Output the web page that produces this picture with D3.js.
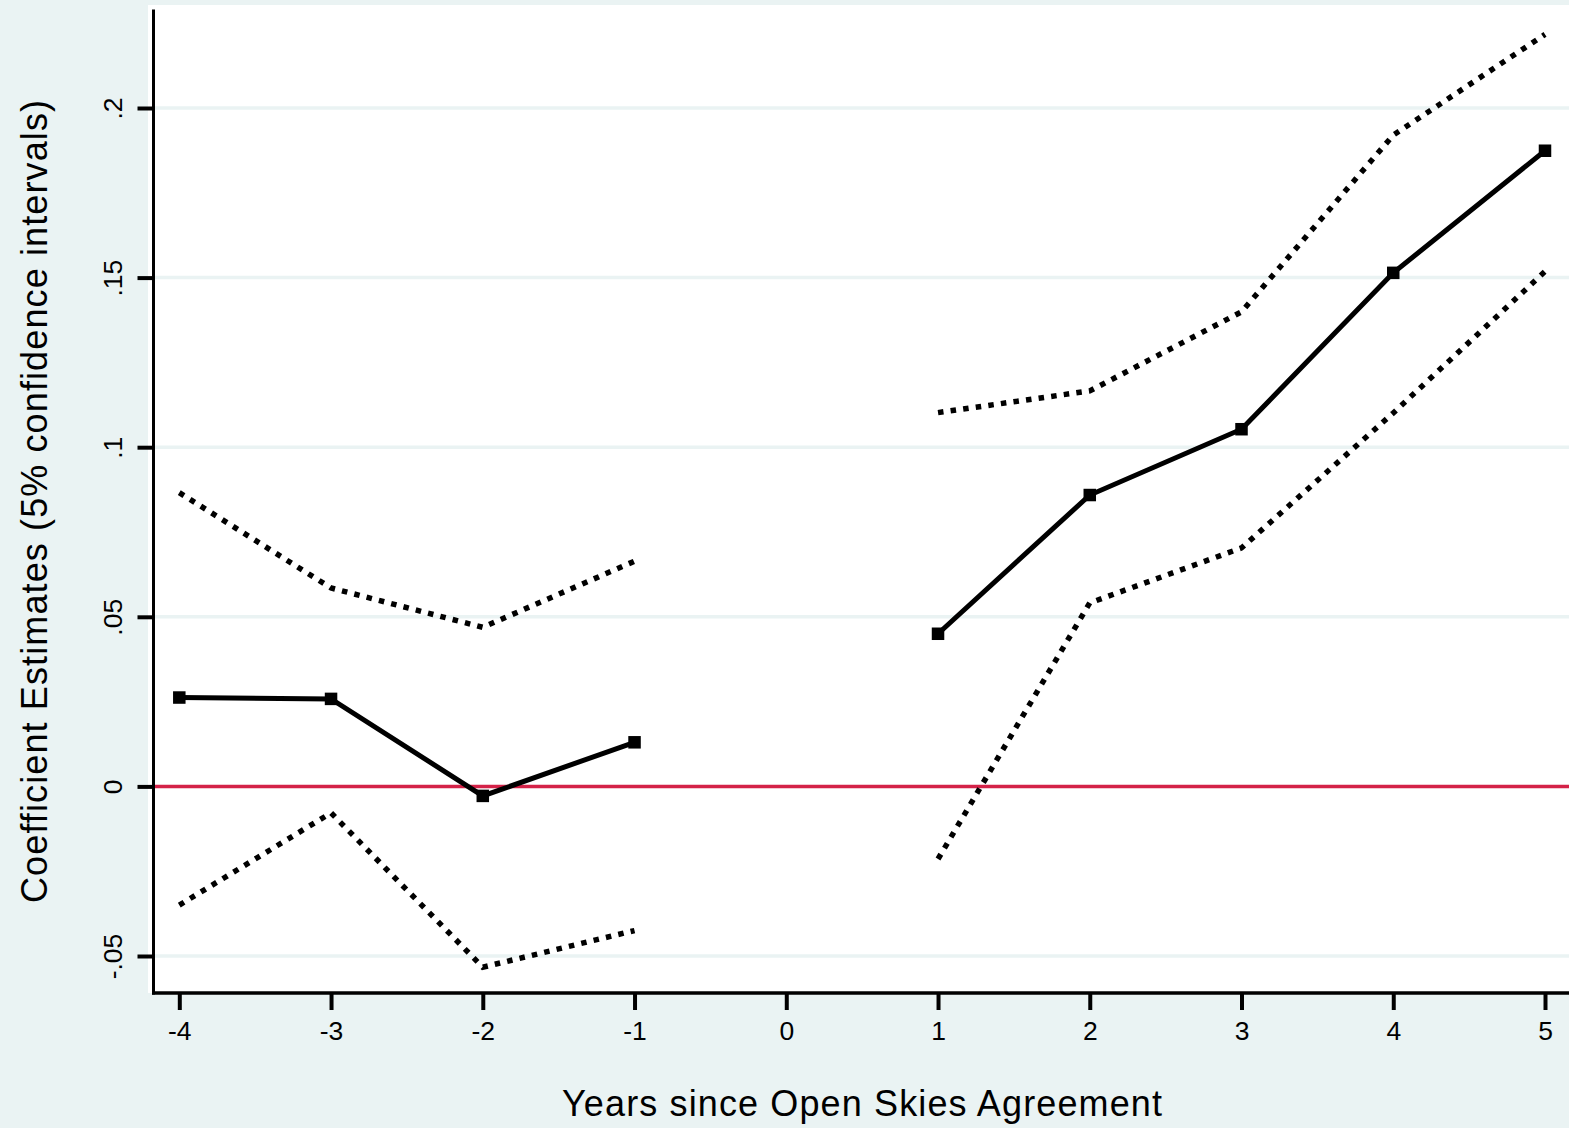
<!DOCTYPE html>
<html>
<head>
<meta charset="utf-8">
<script src="https://cdn.jsdelivr.net/npm/d3@7"></script>
<style>
  html, body { margin: 0; padding: 0; background: #eaf3f3; }
  svg { display: block; }
  text { font-family: "Liberation Sans", Arial, Helvetica, sans-serif; fill: #000; }
</style>
</head>
<body>
<svg id="chart" width="1569" height="1128"></svg>
<script>
// Event-study coefficients by years relative to the Open Skies Agreement
const years = [-4, -3, -2, -1, 0, 1, 2, 3, 4, 5];
// null at year 0 (reference year, no estimate) splits the lines
const estimate = [0.0262, 0.0258, -0.0028, 0.0130, null, 0.0450, 0.0859, 0.1053, 0.1514, 0.1874];
const upperCI  = [0.0866, 0.0585, 0.0469, 0.0664, null, 0.1102, 0.1166, 0.1399, 0.1920, 0.2217];
const lowerCI  = [-0.0350, -0.0078, -0.0533, -0.0425, null, -0.0214, 0.0541, 0.0703, 0.1101, 0.1518];

const xTicks = [-4, -3, -2, -1, 0, 1, 2, 3, 4, 5];
const yTicks = [-0.05, 0, 0.05, 0.1, 0.15, 0.2];
const yTickLabels = ["-.05", "0", ".05", ".1", ".15", ".2"];

const xTitle = "Years since Open Skies Agreement";
const yTitle = "Coefficient Estimates (5% confidence intervals)";

const W = 1569, H = 1128;
const plot = { left: 153.5, top: 9.5, bottom: 993, right: W };

const svg = d3.select("#chart");

const x = d3.scaleLinear().domain([-4, 5]).range([179.3, 1545]);
const y = d3.scaleLinear().domain([-0.05, 0.2]).range([956, 108]);

// outer background
svg.append("rect").attr("x", 0).attr("y", 0).attr("width", W).attr("height", H)
  .attr("fill", "#eaf3f3");

// plot region
svg.append("rect").attr("x", 148).attr("y", 5)
  .attr("width", W - 148).attr("height", plot.bottom - 5)
  .attr("fill", "#ffffff");

// horizontal gridlines
svg.append("g").selectAll("line")
  .data(yTicks.filter(d => d !== 0))
  .join("line")
  .attr("x1", plot.left).attr("x2", plot.right)
  .attr("y1", d => y(d)).attr("y2", d => y(d))
  .attr("stroke", "#eaf3f3").attr("stroke-width", 3.5);

// zero reference line
svg.append("line")
  .attr("x1", plot.left).attr("x2", plot.right)
  .attr("y1", y(0)).attr("y2", y(0))
  .attr("stroke", "#d42248").attr("stroke-width", 3.5);

const line = d3.line()
  .defined(d => d[1] !== null)
  .x(d => x(d[0]))
  .y(d => y(d[1]));

const zip = vals => years.map((yr, i) => [yr, vals[i]]);

// confidence bounds (dotted)
[upperCI, lowerCI].forEach(vals => {
  svg.append("path")
    .datum(zip(vals))
    .attr("d", line)
    .attr("fill", "none")
    .attr("stroke", "#000")
    .attr("stroke-width", 5.5)
    .attr("stroke-dasharray", "5.5 7.2")
    .attr("stroke-linecap", "butt");
});

// point estimates (solid) with square markers
svg.append("path")
  .datum(zip(estimate))
  .attr("d", line)
  .attr("fill", "none")
  .attr("stroke", "#000")
  .attr("stroke-width", 5)
  .attr("stroke-linejoin", "miter");

const ms = 12.5;
svg.append("g").selectAll("rect")
  .data(zip(estimate).filter(d => d[1] !== null))
  .join("rect")
  .attr("x", d => x(d[0]) - ms / 2)
  .attr("y", d => y(d[1]) - ms / 2)
  .attr("width", ms).attr("height", ms)
  .attr("fill", "#000");

// y axis
const yAxis = d3.axisLeft(y)
  .tickValues(yTicks)
  .tickSize(16)
  .tickFormat((d, i) => yTickLabels[i]);
const gy = svg.append("g").attr("transform", `translate(${plot.left},0)`).call(yAxis);
gy.select(".domain").remove();
gy.selectAll(".tick line").attr("stroke", "#000").attr("stroke-width", 4);
gy.selectAll(".tick text")
  .attr("x", 0).attr("y", 0).attr("dy", null)
  .attr("transform", "translate(-32,0) rotate(-90)")
  .attr("text-anchor", "middle")
  .attr("font-size", 26.5)
  .style("font-family", "'Liberation Sans', Arial, sans-serif");
svg.append("line")
  .attr("x1", plot.left).attr("x2", plot.left)
  .attr("y1", plot.top).attr("y2", plot.bottom + 1.5)
  .attr("stroke", "#000").attr("stroke-width", 3);

// x axis
const xAxis = d3.axisBottom(x)
  .tickValues(xTicks)
  .tickSize(17)
  .tickFormat(d3.format("d"));
const gx = svg.append("g").attr("transform", `translate(0,${plot.bottom})`).call(xAxis);
gx.select(".domain").remove();
gx.selectAll(".tick line").attr("stroke", "#000").attr("stroke-width", 4);
gx.selectAll(".tick text")
  .attr("y", 46.5).attr("dy", null)
  .attr("font-size", 26.5)
  .style("font-family", "'Liberation Sans', Arial, sans-serif")
  .text(d => d < 0 ? "-" + Math.abs(d) : String(d));
svg.append("line")
  .attr("x1", plot.left - 1.5).attr("x2", plot.right)
  .attr("y1", plot.bottom).attr("y2", plot.bottom)
  .attr("stroke", "#000").attr("stroke-width", 3.5);

// axis titles
svg.append("text")
  .attr("x", 862).attr("y", 1116)
  .attr("text-anchor", "middle")
  .attr("font-size", 36)
  .attr("textLength", 600).attr("lengthAdjust", "spacing")
  .text(xTitle);

svg.append("text")
  .attr("transform", "translate(47,501.5) rotate(-90)")
  .attr("text-anchor", "middle")
  .attr("font-size", 36)
  .attr("textLength", 803).attr("lengthAdjust", "spacing")
  .text(yTitle);
</script>
</body>
</html>
